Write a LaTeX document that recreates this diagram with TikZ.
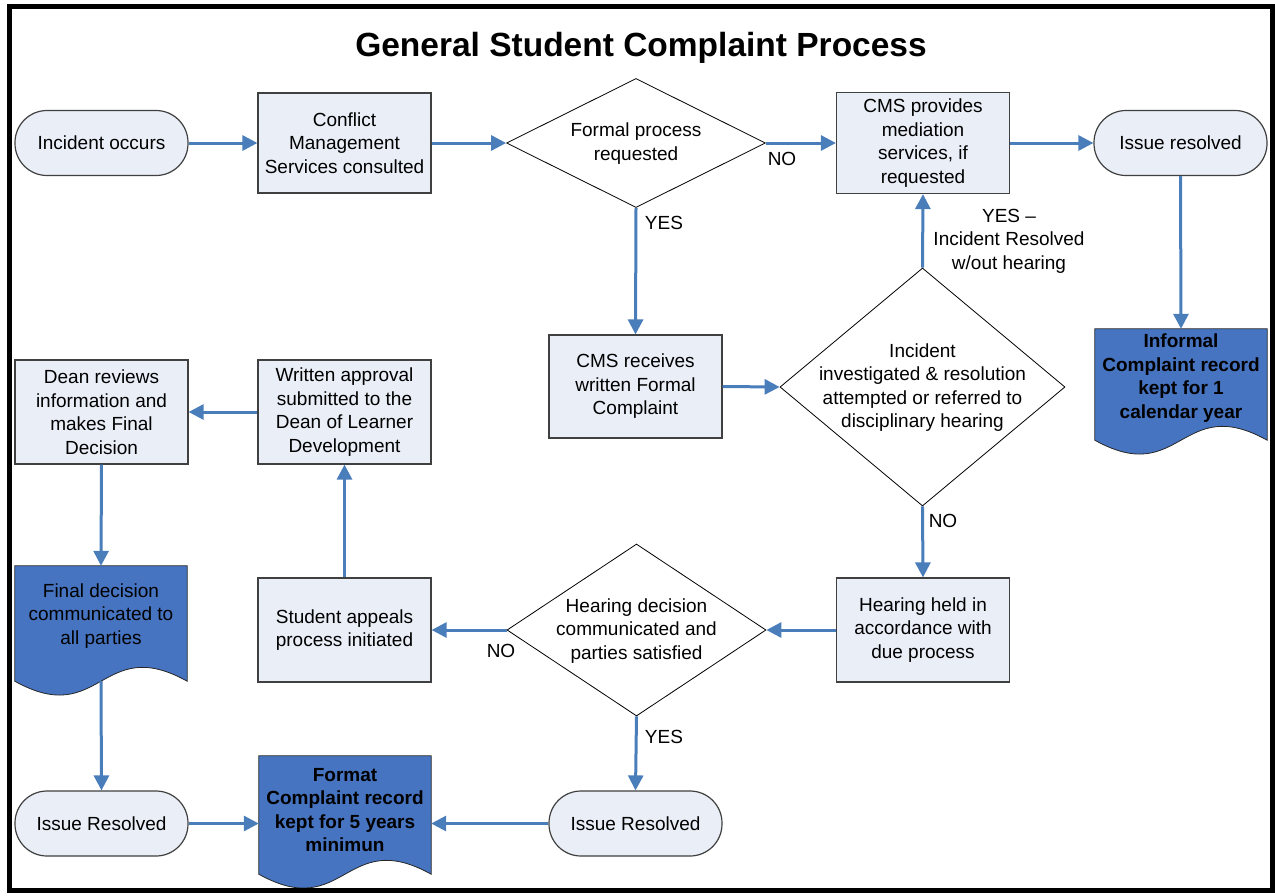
\documentclass[tikz,border=0pt]{standalone}
\usepackage{fontspec}
\setmainfont{Liberation Sans}
\usetikzlibrary{arrows.meta,shapes.geometric,calc}
\definecolor{arrowblue}{RGB}{74,126,187}
\definecolor{docblue}{RGB}{70,116,193}
\definecolor{boxfill}{RGB}{233,238,247}
\definecolor{boxline}{RGB}{64,64,64}
\pgfdeclarelayer{background}
\pgfsetlayers{background,main}
\newcommand\zbox[1]{\raisebox{-10.5pt}{\makebox[0pt]{\smash{\begin{tabular}{@{}c@{}}#1\end{tabular}}}}}
\newcommand\docshape[2]{%
  \begin{pgfonlayer}{background}
  \draw[fill=docblue,draw=black!85,line width=0.8pt] (#1.north west) -- (#1.north east) -- ($(#1.south east)+(0,#2)$)
    .. controls ($(#1.south)+(0,#2-48)$) and ($(#1.south)+(0,#2+48)$) .. ($(#1.south west)+(0,#2)$) -- cycle;
  \end{pgfonlayer}}
\begin{document}
\begin{tikzpicture}[x=1pt,y=-1pt,
  every node/.style={font=\fontsize{19}{23.5}\selectfont, inner sep=0pt},
  procbox/.style={rectangle, draw=boxline, fill=boxfill, line width=1.2pt, minimum width=173pt, minimum height=104pt, align=center},
  termbox/.style={rectangle, rounded corners=32pt, draw=boxline, fill=boxfill, line width=1.2pt, minimum width=173pt, minimum height=65pt, align=center},
  decbox/.style={diamond, draw=black, fill=white, line width=0.8pt},
  docbox/.style={rectangle, minimum width=172pt, align=center},
  flow/.style={draw=arrowblue, line width=3pt, -{Triangle[length=15pt,width=15pt]}},
  lbl/.style={}
]
\useasboundingbox (0,0) rectangle (1275,895);
\draw[line width=5pt] (9.5,6.5) rectangle (1272.5,890.5);
\node[font=\fontsize{33.5}{40}\selectfont\bfseries] (title) at (641,48) {General Student Complaint Process};

% row 1
\node[termbox] (inc) at (101.5,143) {Incident occurs};
\node[procbox, minimum height=100pt] (cmc) at (344.5,143) {Conflict\\Management\\Services consulted};
\node[decbox, minimum width=259pt, minimum height=129pt] (frm) at (636,143) {\zbox{Formal process\\requested}};
\node[procbox, minimum height=101pt] (cmp) at (923,143) {CMS provides\\mediation\\services, if\\requested};
\node[termbox] (ir) at (1180.5,143) {Issue resolved};

% informal doc
\node[docbox, minimum height=98pt, font=\fontsize{19}{23.5}\selectfont\bfseries] (inf) at (1181,378) {Informal\\Complaint record\\kept for 1\\calendar year};
\docshape{inf}{13}

% row 2
\node[procbox, minimum height=103pt] (cmr) at (635.5,386.5) {CMS receives\\written Formal\\Complaint};
\node[decbox, minimum width=285pt, minimum height=238pt] (inv) at (922.5,387) {\zbox{Incident\\investigated \& resolution\\attempted or referred to\\disciplinary hearing}};
\node[procbox] (wr) at (344.5,412) {Written approval\\submitted to the\\Dean of Learner\\Development};
\node[procbox] (dean) at (101.5,412) {Dean reviews\\information and\\makes Final\\Decision};

% final decision doc
\node[docbox, minimum height=100pt] (fin) at (101,616) {Final decision\\communicated to\\all parties};
\docshape{fin}{15}

% row 3
\node[procbox] (hh) at (923,630) {Hearing held in\\accordance with\\due process};
\node[decbox, minimum width=259pt, minimum height=172pt] (hd) at (636.5,630) {\zbox{Hearing decision\\communicated and\\parties satisfied}};
\node[procbox] (sa) at (344.5,630) {Student appeals\\process initiated};

% row 4
\node[termbox] (ir1) at (101.5,823.5) {Issue Resolved};
\node[docbox, minimum height=108pt, font=\fontsize{19}{23.5}\selectfont\bfseries] (fmt) at (345,810) {Format\\Complaint record\\kept for 5 years\\minimun};
\docshape{fmt}{10}
\node[termbox] (ir2) at (635.5,823.5) {Issue Resolved};

% connectors
\coordinate (finw) at ($(fin.south)+(0,15)$);
\draw[flow] (inc.east) -- (cmc.west);
\draw[flow] (cmc.east) -- (frm.west);
\draw[flow] (frm.east) -- (cmp.west);
\draw[flow] (frm.south) -- (cmr.north);
\draw[flow] (cmp.east) -- (ir.west);
\draw[flow] (ir.south) -- (inf.north);
\draw[flow] (cmr.east) -- (inv.west);
\draw[flow] (inv.north) -- (cmp.south);
\draw[flow] (inv.south) -- (hh.north);
\draw[flow] (hh.west) -- (hd.east);
\draw[flow] (hd.west) -- (sa.east);
\draw[flow] (hd.south) -- (ir2.north);
\draw[flow] (sa.north) -- (wr.south);
\draw[flow] (wr.west) -- (dean.east);
\draw[flow] (dean.south) -- (fin.north);
\draw[flow] (finw) -- (ir1.north);
\draw[flow] (ir1.east) -- (ir1.east -| fmt.west);
\draw[flow] (ir2.west) -- (ir2.west -| fmt.east);

% labels
\node[lbl] (l1) at (782,159) {NO};
\node[lbl] (l2) at (664,223) {YES};
\node[lbl, align=center] (l3) at (1009,241) {YES –\\Incident Resolved\\w/out hearing};
\node[lbl] (l4) at (943,521) {NO};
\node[lbl] (l5) at (501,651) {NO};
\node[lbl] (l6) at (664,737) {YES};
\end{tikzpicture}
\end{document}
